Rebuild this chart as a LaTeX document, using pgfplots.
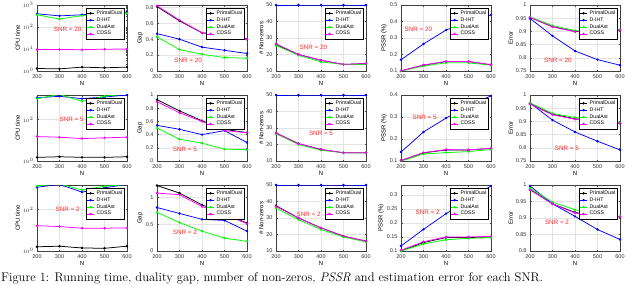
\documentclass[border=0pt]{standalone}
\usepackage{pgfplots}
\usepackage{pgfplotstable}
\pgfplotsset{compat=1.18}
\usepackage{fontspec}
\setmainfont{Liberation Sans}
\newfontfamily\capfont{Latin Modern Roman}
\definecolor{mblue}{rgb}{0,0,1}
\definecolor{mgreen}{rgb}{0,1,0}
\definecolor{mmag}{rgb}{1,0,1}
\definecolor{mred}{rgb}{1,0.15,0.15}

\pgfplotsset{
  panel/.style={
    scale only axis, width=90pt, height=66pt,
    anchor=south west,
    xmin=200, xmax=600, xtick={200,300,400,500,600},
    grid=major, grid style={gray!22, line width=0.3pt},
    tick align=inside, tick style={black!70, line width=0.3pt},
    axis line style={black!75, line width=0.4pt},
    major tick length=1.5pt, minor tick length=1pt,
    /pgf/number format/assume math mode=true,
    /pgf/number format/fixed,
    tick label style={font=\fontsize{5.5}{6}\selectfont, text=black!80},
    label style={font=\fontsize{6}{6.5}\selectfont},
    xlabel={N},
    xlabel style={yshift=4pt},
    ylabel style={yshift=-4pt},
    every axis plot/.append style={line width=0.75pt, mark=*, mark size=0.8pt},
    legend style={at={(0.975,0.955)}, anchor=north east,
      font=\fontsize{5.2}{5.5}\selectfont, inner sep=0.5pt, row sep=-2.3pt,
      draw=black, fill=white, line width=0.35pt},
    legend cell align=left,
    legend image code/.code={\draw[mark repeat=2,mark phase=2] plot coordinates {(0cm,0cm) (0.13cm,0cm) (0.26cm,0cm)};},
  },
}
\tikzset{snr/.style={text=mred, font=\fontsize{6.3}{7}\selectfont, inner sep=0pt}}

% ---------- data ----------
\pgfplotstableread{
N PD DIHT DA CDSS
200 1.3 400 360 9.5
300 1.25 320 230 9.5
400 1.5 360 330 9.3
500 1.4 420 400 9.8
600 1.5 470 420 10
}\tAa
\pgfplotstableread{
N PD DIHT DA CDSS
200 0.81 0.47 0.43 0.82
300 0.63 0.40 0.27 0.64
400 0.48 0.30 0.21 0.48
500 0.47 0.26 0.17 0.47
600 0.40 0.22 0.16 0.40
}\tAb
\pgfplotstableread{
N PD DIHT DA CDSS
200 26 50 25.5 26.5
300 20 50 19.5 20
400 16.5 50 15.5 16.5
500 14 50 14 14
600 14.5 50 14 14.5
}\tAc
\pgfplotstableread{
N PD DIHT DA CDSS
200 0.100 0.168 0.100 0.102
300 0.135 0.264 0.130 0.136
400 0.157 0.348 0.150 0.158
500 0.157 0.400 0.150 0.158
600 0.138 0.440 0.135 0.138
}\tAd
\pgfplotstableread{
N PD DIHT DA CDSS
200 0.953 0.949 0.955 0.953
300 0.918 0.883 0.922 0.917
400 0.900 0.826 0.903 0.899
500 0.900 0.793 0.902 0.900
600 0.905 0.772 0.906 0.905
}\tAe
\pgfplotstableread{
N PD DIHT DA CDSS
200 1.5 1100 1000 15
300 1.6 1300 1600 14
400 1.5 1000 750 12
500 1.5 1200 1300 13
600 1.6 1500 1700 14
}\tBa
\pgfplotstableread{
N PD DIHT DA CDSS
200 0.93 0.54 0.50 0.90
300 0.76 0.48 0.33 0.73
400 0.61 0.40 0.27 0.60
500 0.48 0.46 0.18 0.46
600 0.43 0.28 0.17 0.43
}\tBb
\pgfplotstableread{
N PD DIHT DA CDSS
200 27 50 26.5 27
300 20.5 50 20 20.5
400 17 50 16.5 17
500 15 50 15 15
600 15 50 15 15
}\tBc
\pgfplotstableread{
N PD DIHT DA CDSS
200 0.102 0.141 0.099 0.103
300 0.137 0.232 0.132 0.138
400 0.150 0.295 0.138 0.152
500 0.150 0.350 0.143 0.150
600 0.157 0.396 0.152 0.158
}\tBd
\pgfplotstableread{
N PD DIHT DA CDSS
200 0.968 0.970 0.970 0.965
300 0.927 0.905 0.930 0.925
400 0.910 0.860 0.915 0.908
500 0.900 0.825 0.905 0.900
600 0.893 0.792 0.895 0.893
}\tBe
\pgfplotstableread{
N PD DIHT DA CDSS
200 1.6 1170 1350 16.5
300 1.7 1600 1700 15
400 1.4 680 870 12.5
500 1.35 1100 1300 12.5
600 1.7 1600 1600 13
}\tCa
\pgfplotstableread{
N PD DIHT DA CDSS
200 1.22 0.81 0.72 1.08
300 1.08 0.70 0.53 1.05
400 0.86 0.59 0.37 0.83
500 0.70 0.57 0.24 0.68
600 0.52 0.37 0.18 0.51
}\tCb
\pgfplotstableread{
N PD DIHT DA CDSS
200 37.5 50 36 37
300 30 50 29 30
400 24 50 23 24
500 19 50 18.5 19
600 16 50 15.5 16
}\tCc
\pgfplotstableread{
N PD DIHT DA CDSS
200 0.100 0.118 0.100 0.103
300 0.130 0.177 0.125 0.133
400 0.148 0.233 0.140 0.150
500 0.148 0.280 0.145 0.150
600 0.150 0.332 0.148 0.152
}\tCd
\pgfplotstableread{
N PD DIHT DA CDSS
200 0.987 0.997 0.990 0.985
300 0.943 0.943 0.948 0.943
400 0.917 0.905 0.925 0.915
500 0.905 0.865 0.912 0.905
600 0.903 0.835 0.905 0.903
}\tCe

\newcommand\panel[5]{%
\begin{axis}[panel, at={(#1pt,#2pt)}, #3]
\addplot[black] table[x=N,y=PD] {#4};
\addplot[mblue] table[x=N,y=DIHT] {#4};
\addplot[mgreen] table[x=N,y=DA] {#4};
\addplot[mmag] table[x=N,y=CDSS] {#4};
\legend{PrimalDual,D-IHT,DualAst,CDSS}
#5
\end{axis}}

\begin{document}
\begin{tikzpicture}
\useasboundingbox (0,0) rectangle (640pt,285pt);
% ---- row 1 (SNR = 20) ----
\panel{37}{214}{ymode=log, ymin=1, ymax=1000, ytick={1,10,100,1000}, ylabel={CPU time}}{\tAa}{\node[snr] at (axis cs:336,80) {SNR = 20};}
\panel{157}{214}{ymin=0, ymax=0.83, ytick={0,0.2,0.4,0.6,0.8}, ylabel={Gap}}{\tAb}{\node[snr] at (axis cs:338,0.131) {SNR = 20};}
\panel{276}{214}{ymin=10, ymax=50, ytick={10,20,30,40,50}, ylabel={\# Non-zeros}}{\tAc}{\node[snr] at (axis cs:366,24.6) {SNR = 20};}
\panel{401}{214}{ymin=0.1, ymax=0.5, ytick={0.1,0.2,0.3,0.4,0.5}, ylabel={PSSR (\%)}}{\tAd}{\node[snr] at (axis cs:277,0.352) {SNR = 20};}
\panel{530}{214}{ymin=0.75, ymax=1, ytick={0.75,0.8,0.85,0.9,0.95,1}, ylabel={Error}}{\tAe}{\node[snr] at (axis cs:324,0.79) {SNR = 20};}
% ---- row 2 (SNR = 5) ----
\panel{37}{124}{ymode=log, ymin=1, ymax=1500, ytick={1,100}, ylabel={CPU time}}{\tBa}{\node[snr] at (axis cs:354,100) {SNR = 5};}
\panel{157}{124}{ymin=0, ymax=1, ytick={0,0.2,0.4,0.6,0.8,1}, ylabel={Gap}}{\tBb}{\node[snr] at (axis cs:324,0.17) {SNR = 5};}
\panel{276}{124}{ymin=10, ymax=50, ytick={10,20,30,40,50}, ylabel={\# Non-zeros}}{\tBc}{\node[snr] at (axis cs:400,27) {SNR = 5};}
\panel{401}{124}{ymin=0.1, ymax=0.4, ytick={0.1,0.2,0.3,0.4}, ylabel={PSSR (\%)}}{\tBd}{\node[snr] at (axis cs:305,0.298) {SNR = 5};}
\panel{530}{124}{ymin=0.75, ymax=1, ytick={0.75,0.8,0.85,0.9,0.95,1}, ylabel={Error}}{\tBe}{\node[snr] at (axis cs:364,0.798) {SNR = 5};}
% ---- row 3 (SNR = 2) ----
\panel{37}{34}{ymode=log, ymin=1, ymax=1500, ytick={1,100}, ylabel={CPU time}}{\tCa}{\node[snr] at (axis cs:336,100) {SNR = 2};}
\panel{157}{34}{ymin=0, ymax=1.23, ytick={0,0.5,1}, ylabel={Gap}}{\tCb}{\node[snr] at (axis cs:324,0.34) {SNR = 2};}
\panel{276}{34}{ymin=10, ymax=50, ytick={10,20,30,40,50}, ylabel={\# Non-zeros}}{\tCc}{\node[snr] at (axis cs:345,32.5) {SNR = 2};}
\panel{401}{34}{ymin=0.1, ymax=0.335, ytick={0.1,0.15,0.2,0.25,0.3}, ylabel={PSSR (\%)}}{\tCd}{\node[snr] at (axis cs:318,0.238) {SNR = 2};}
\panel{530}{34}{ymin=0.8, ymax=1, ytick={0.8,0.85,0.9,0.95,1}, ylabel={Error}}{\tCe}{\node[snr] at (axis cs:320,0.887) {SNR = 2};}
% ---- caption ----
\node[anchor=base west, inner sep=0pt, font=\capfont\fontsize{12.5}{14}\selectfont] at (1pt,3.5pt)
  {Figure 1: Running time, duality gap, number of non-zeros, \textit{PSSR} and estimation error for each SNR.};
\end{tikzpicture}
\end{document}
